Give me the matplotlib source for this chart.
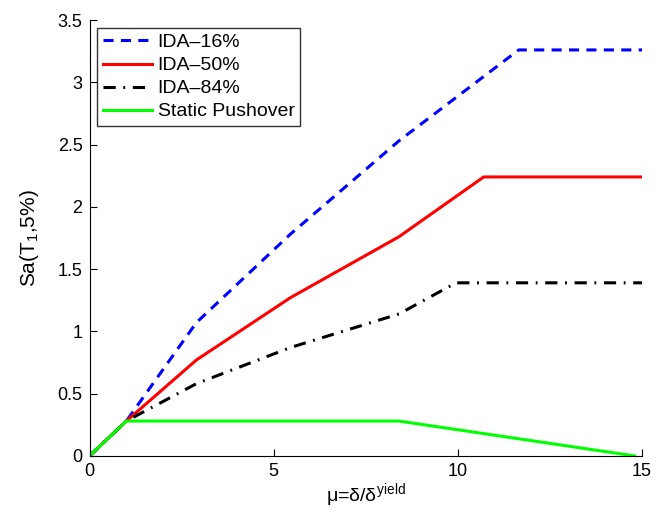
import numpy as np
import matplotlib.pyplot as plt

plt.rcParams['font.family'] = ['Liberation Sans', 'DejaVu Sans']
plt.rcParams['mathtext.fontset'] = 'custom'
plt.rcParams['mathtext.rm'] = 'Liberation Sans'
plt.rcParams['mathtext.it'] = 'Liberation Sans'

# дані кривих
mu16 = [0, 1, 2.9, 5.45, 8.4, 11.65, 15]
sa16 = [0, 0.28, 1.07, 1.78, 2.53, 3.26, 3.26]
mu50 = [0, 1, 2.9, 5.45, 8.4, 10.7, 15]
sa50 = [0, 0.28, 0.77, 1.27, 1.76, 2.24, 2.24]
mu84 = [0, 1, 2.9, 5.45, 8.4, 9.95, 15]
sa84 = [0, 0.28, 0.58, 0.87, 1.14, 1.39, 1.39]
mu_sp = [0, 1, 8.4, 14.8]
sa_sp = [0, 0.28, 0.28, 0]

fig = plt.figure(figsize=(6.65, 5.14), dpi=100)
ax = fig.add_axes([0.1346, 0.113, 0.831, 0.848])
ax.plot(mu16, sa16, '--', color='#0000ff', linewidth=2.2, dashes=(3.3, 2.4), label='IDA\u201316%')
ax.plot(mu50, sa50, '-', color='#ff0000', linewidth=2.2, label='IDA\u201350%')
ax.plot(mu84, sa84, '-.', color='black', linewidth=2.2, dashes=(4, 2.5, 0.6, 2.5), label='IDA\u201384%')
ax.plot(mu_sp, sa_sp, '-', color='#00ff00', linewidth=2.2, label='Static Pushover')

ax.set_xlim(0, 15)
ax.set_ylim(0, 3.5)
ax.set_xticks([0, 5, 10, 15])
ax.set_yticks(np.arange(0, 3.51, 0.5))
ax.set_yticklabels(['0', '0.5', '1', '1.5', '2', '2.5', '3', '3.5'])
ax.spines['top'].set_visible(False)
ax.spines['right'].set_visible(False)
ax.tick_params(direction='in', labelsize=13, length=5, pad=5)
ax.set_xlabel(r'$\mu$=$\delta$/$\delta^{\mathrm{yield}}$', fontsize=14, labelpad=1)
ax.set_ylabel('Sa(T$_1$,5%)', fontsize=15, labelpad=12)
leg = ax.legend(loc='upper left', fontsize=14, fancybox=False, edgecolor='black',
                handlelength=2.5, borderaxespad=0.4, labelspacing=0.28,
                handletextpad=0.3, borderpad=0.3)
leg.get_frame().set_linewidth(1)
fig.savefig('out.png', dpi=100)
